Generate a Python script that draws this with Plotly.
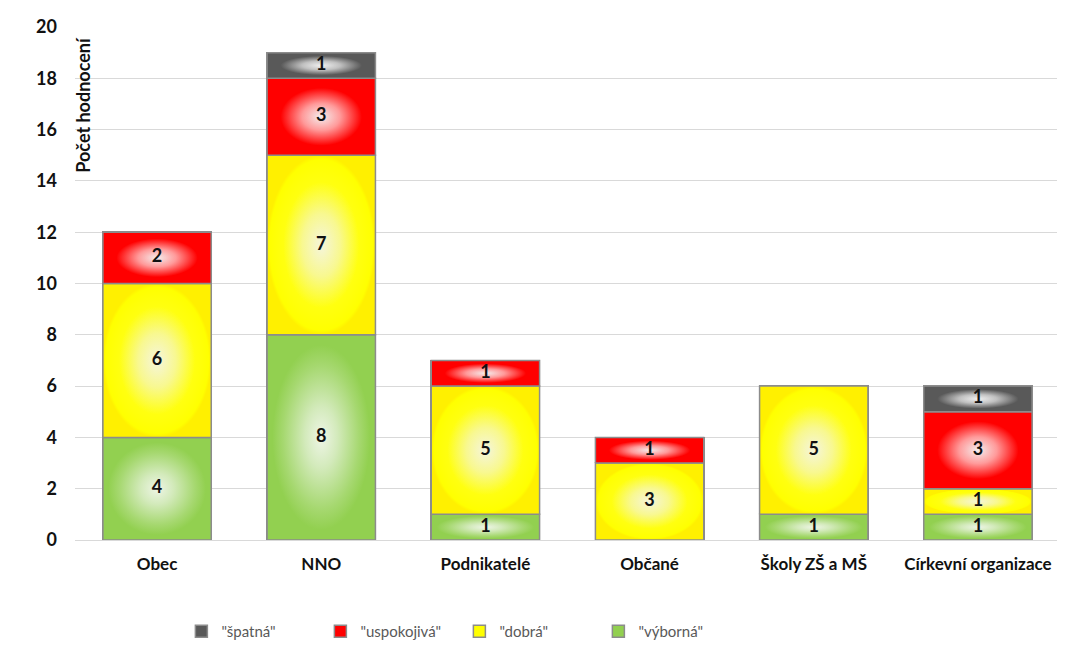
import plotly.graph_objects as go

# --- data -------------------------------------------------------------------
categories = ["Obec", "NNO", "Podnikatelé", "Občané", "Školy ZŠ a MŠ", "Církevní organizace"]
ratings = ['"výborná"', '"dobrá"', '"uspokojivá"', '"špatná"']
vyborna = [4, 8, 1, 0, 1, 1]
dobra = [6, 7, 5, 3, 5, 1]
uspokojiva = [2, 3, 1, 1, 0, 3]
spatna = [0, 1, 0, 0, 0, 1]
series = [vyborna, dobra, uspokojiva, spatna]

# edge colour + radial gradient (centre -> edge) per rating
_EDGE = ["#92d050", "#ffff00", "#ff0000", "#595959"]
_GRAD = [
    [[0, "#eef5e6"], [0.3, "#d3eabb"], [0.7, "#a6d870"], [0.9, "#92d050"], [1, "#92d050"]],
    [[0, "#f5f5dc"], [0.35, "#f8f890"], [0.7, "#ffff10"], [0.95, "#ffff00"], [1, "#fff000"]],
    [[0, "#f4eeee"], [0.35, "#ff9a9a"], [0.75, "#ff0000"], [1, "#ff0000"]],
    [[0, "#f0f0f0"], [0.35, "#c0c0c0"], [0.75, "#595959"], [1, "#595959"]],
]
_OUTLINE = "#8c8c8c"
_W = 0.66
FONT = "Lato, 'Open Sans', sans-serif"

fig = go.Figure()

# --- bars (structure + legend) ---------------------------------------------
x_idx = list(range(len(categories)))
for i, vals in enumerate(series):
    fig.add_trace(
        go.Bar(
            x=x_idx,
            y=vals,
            width=_W,
            name=ratings[i],
            marker=dict(color=_EDGE[i], line=dict(color=_OUTLINE, width=1.5)),
            legendrank=10 - i,
            hoverinfo="skip",
        )
    )

# --- radial gradient overlay, one rectangle per segment --------------------
base = [0] * len(categories)
label_x, label_y, label_t = [], [], []
for i, vals in enumerate(series):
    for j, v in enumerate(vals):
        if v <= 0:
            continue
        x0, x1 = j - _W / 2, j + _W / 2
        y0, y1 = base[j], base[j] + v
        fig.add_trace(
            go.Scatter(
                x=[x0, x1, x1, x0, x0],
                y=[y0, y0, y1, y1, y0],
                mode="lines",
                fill="toself",
                fillgradient=dict(type="radial", colorscale=_GRAD[i]),
                line=dict(color=_OUTLINE, width=1.5),
                showlegend=False,
                hoverinfo="skip",
            )
        )
        label_x.append(j)
        label_y.append((y0 + y1) / 2)
        label_t.append(f"<b>{v}</b>")
        base[j] = y1

fig.add_trace(
    go.Scatter(
        x=label_x,
        y=label_y,
        text=label_t,
        mode="text",
        textfont=dict(family=FONT, size=18, color="#111111"),
        showlegend=False,
        hoverinfo="skip",
    )
)

fig.add_annotation(
    text="<b>Počet hodnocení</b>",
    textangle=-90,
    xref="paper",
    yref="paper",
    x=0,
    y=0.985,
    xshift=8,
    xanchor="center",
    yanchor="top",
    showarrow=False,
    font=dict(family=FONT, size=18, color="#111111"),
)

# --- layout -----------------------------------------------------------------
# page body has an 8px margin, so the figure is a bit smaller than the window
fig.update_layout(
    barmode="stack",
    width=1057,
    height=658,
    plot_bgcolor="white",
    paper_bgcolor="white",
    margin=dict(l=67, r=5, t=19, b=126, autoexpand=False),
    font=dict(family=FONT, size=17, color="#111111"),
    xaxis=dict(
        range=[-0.5, 5.5],
        tickvals=x_idx,
        ticktext=[f"<b>{c}</b>" for c in categories],
        showgrid=False,
        zeroline=False,
        showline=False,
        ticks="",
        ticklabelstandoff=12,
        tickfont=dict(size=17),
    ),
    yaxis=dict(
        range=[0, 20],
        dtick=2,
        tickformat="d",
        showgrid=True,
        gridcolor="#d9d9d9",
        gridwidth=1,
        zeroline=True,
        zerolinecolor="#d9d9d9",
        zerolinewidth=1,
        ticks="",
        ticklabelstandoff=17,
        tickprefix="<b>",
        ticksuffix="</b>",
        tickfont=dict(size=18),
    ),
    legend=dict(
        orientation="h",
        x=0.108,
        xanchor="left",
        y=-0.146,
        yanchor="top",
        font=dict(family=FONT, size=15, color="#595959"),
        itemwidth=30,
        entrywidth=94,
        traceorder="normal",
    ),
)

fig.write_html("out.html")
